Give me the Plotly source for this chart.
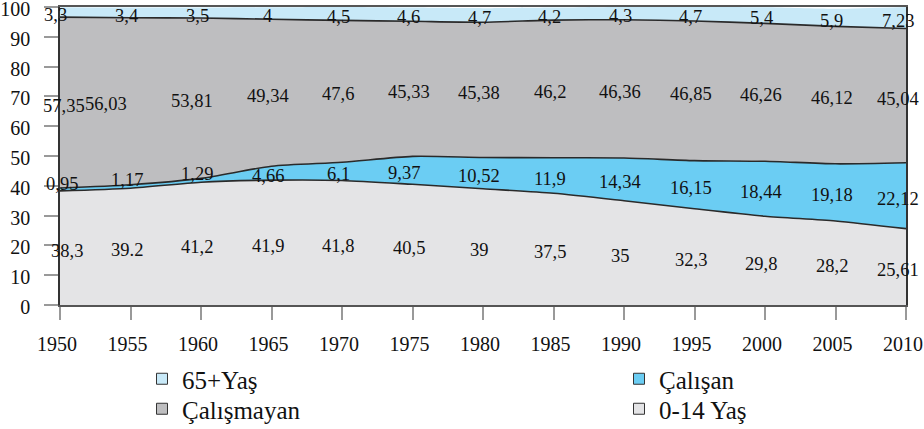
import plotly.graph_objects as go

# Population structure by age / working status (%), 1950-2010
YEARS = [1950, 1955, 1960, 1965, 1970, 1975, 1980, 1985, 1990, 1995, 2000, 2005, 2010]
YAS_0_14 = [38.3, 39.2, 41.2, 41.9, 41.8, 40.5, 39, 37.5, 35, 32.3, 29.8, 28.2, 25.61]
CALISAN = [0.95, 1.17, 1.29, 4.66, 6.1, 9.37, 10.52, 11.9, 14.34, 16.15, 18.44, 19.18, 22.12]
CALISMAYAN = [57.35, 56.03, 53.81, 49.34, 47.6, 45.33, 45.38, 46.2, 46.36, 46.85, 46.26, 46.12, 45.04]
YAS_65 = [3.3, 3.4, 3.5, 4, 4.5, 4.6, 4.7, 4.2, 4.3, 4.7, 5.4, 5.9, 7.23]
Y_TICKS = list(range(0, 101, 10))

FONT = "Liberation Serif, Times New Roman, Times, serif"
EDGE = "#2a2a2a"

# stacking order (bottom to top): name, values, fill colour, legend slot
SERIES = [
    ("0-14 Yaş", YAS_0_14, "#e4e4e6", "legend4"),
    ("Çalışan", CALISAN, "#6bcdf3", "legend2"),
    ("Çalışmayan", CALISMAYAN, "#bebec0", "legend3"),
    ("65+Yaş", YAS_65, "#c8e9f8", "legend"),
]

fig = go.Figure()

for name, vals, color, _ in SERIES:
    top = name == "65+Yaş"
    fig.add_trace(go.Scatter(
        x=YEARS, y=vals, name=name, mode="lines", stackgroup="pop",
        line=dict(shape="spline", smoothing=0.7, color=EDGE, width=0 if top else 1.6),
        fillcolor=color, showlegend=False, hoverinfo="skip",
    ))

# legend entries drawn as small boxed squares
for name, vals, color, leg in SERIES:
    fig.add_trace(go.Scatter(
        x=[None], y=[None], name=name, mode="markers", legend=leg,
        marker=dict(symbol="square", size=11, color=color, line=dict(color="#333", width=1)),
    ))

# value labels placed in the middle of each band
def label_text(name, year, v):
    s = f"{v:g}"
    if name == "0-14 Yaş" and year == 1955:
        return s
    return s.replace(".", ",")

nudge = {
    ("0-14 Yaş", 1950): 7, ("Çalışan", 1950): 2, ("Çalışmayan", 1950): 4, ("65+Yaş", 1950): -5,
    ("Çalışmayan", 1955): -25, ("Çalışmayan", 1960): -9, ("Çalışan", 1975): -9,
}
annotations = []
base = [0.0] * len(YEARS)
for name, vals, _, _ in SERIES:
    for i, (yr, v) in enumerate(zip(YEARS, vals)):
        y = base[i] + v / 2
        if name == "Çalışan" and v < 2:
            y = base[i] + v + 2.5
        dx = nudge.get((name, yr), -8 if yr == 2010 else -4)
        annotations.append(dict(
            x=yr, y=y, text=label_text(name, yr, v), showarrow=False,
            xshift=dx, yshift=-3, font=dict(family=FONT, size=18.5, color="#111"),
        ))
        base[i] += v

# two-column legend below the plot, one legend box per entry
PLOT_L, PLOT_W, PLOT_B, PLOT_H = 60, 846, 305, 298


def legend_box(px, py):
    return dict(
        x=(px - PLOT_L) / PLOT_W, xanchor="left", y=(PLOT_B - py) / PLOT_H, yanchor="top",
        orientation="v", font=dict(family=FONT, size=25, color="#111"),
        itemwidth=30, bgcolor="rgba(0,0,0,0)",
    )


fig.update_layout(
    width=924, height=429,
    margin=dict(l=60, r=18, t=7, b=124, autoexpand=False),
    paper_bgcolor="white", plot_bgcolor="white",
    font=dict(family=FONT, size=20, color="#111"),
    annotations=annotations,
    legend=legend_box(142, 356),
    legend2=legend_box(619, 356),
    legend3=legend_box(142, 386),
    legend4=legend_box(619, 386),
)

fig.update_xaxes(
    range=[YEARS[0], YEARS[-1]], tickvals=YEARS, ticktext=[str(y) for y in YEARS],
    showgrid=False, zeroline=False, showline=True, linecolor="#555", linewidth=1.5,
    mirror=True, ticks="outside", ticklen=13, tickcolor="#999", tickwidth=1.5,
    ticklabelstandoff=7, ticklabelshift=-3, ticklabeloverflow="allow", automargin=False,
    tickfont=dict(family=FONT, size=20, color="#111"),
)
fig.update_yaxes(
    range=[0, 100], tickvals=Y_TICKS, showgrid=False, zeroline=False,
    showline=True, linecolor="#333", linewidth=1.5, mirror=True,
    ticks="outside", ticklen=14, tickcolor="#999", tickwidth=1.5,
    ticklabelstandoff=10, ticklabelshift=2, ticklabeloverflow="allow", automargin=False,
    tickfont=dict(family=FONT, size=20, color="#111"),
)

fig.write_html("out.html")
